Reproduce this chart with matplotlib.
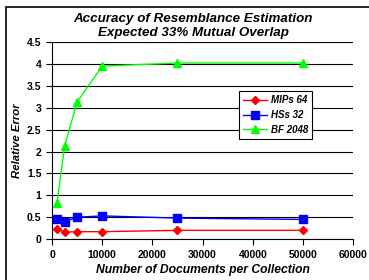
import matplotlib
matplotlib.use("Agg")
import matplotlib.pyplot as plt
from matplotlib.patches import Rectangle

plt.rcParams['font.family'] = ['Liberation Sans', 'DejaVu Sans']

# documents per collection
docs = [1000, 2500, 5000, 10000, 25000, 50000]
mips64 = [0.23, 0.16, 0.17, 0.17, 0.20, 0.20]
hss32 = [0.45, 0.40, 0.50, 0.53, 0.48, 0.45]
bf2048 = [0.82, 2.12, 3.13, 3.95, 4.02, 4.02]

fig = plt.figure(figsize=(3.69, 2.80), dpi=100)
ax = fig.add_axes([0.141, 0.146, 0.816, 0.704])

# outer chart frame (runs off right/bottom edge)
fig.patches.append(Rectangle((6/369, -0.05), 1.0, (280-7)/280 + 0.05,
                             transform=fig.transFigure, fill=False,
                             edgecolor='black', lw=1.2))

ax.plot(docs, mips64, color='#ff0000', marker='D', ms=4.5, lw=1, label='MIPs 64')
ax.plot(docs, hss32, color='#0000ff', marker='s', ms=5.5, lw=1, label='HSs 32')
ax.plot(docs, bf2048, color='#00ff00', marker='^', ms=5.5, lw=1, label='BF 2048')

ax.set_xlim(0, 60000)
ax.set_ylim(0, 4.5)
ax.set_xticks(range(0, 60001, 10000))
ax.set_yticks([0, 0.5, 1, 1.5, 2, 2.5, 3, 3.5, 4, 4.5])
ax.set_yticklabels(['0', '0.5', '1', '1.5', '2', '2.5', '3', '3.5', '4', '4.5'])
ax.yaxis.grid(True, color='black', lw=0.8)
ax.set_axisbelow(True)
for s in ['top', 'right']:
    ax.spines[s].set_visible(False)
ax.tick_params(direction='out', length=4, labelsize=7.5)
for lab in ax.get_xticklabels() + ax.get_yticklabels():
    lab.set_fontweight('bold')

ax.set_xlabel('Number of Documents per Collection', fontsize=8.7,
              fontweight='bold', style='italic', labelpad=3)
ax.set_ylabel('Relative Error', fontsize=8.2, fontweight='bold',
              style='italic', labelpad=4)
fig.text(0.523, 0.907, 'Accuracy of Resemblance Estimation\nExpected 33% Mutual Overlap',
         ha='center', va='center', fontsize=9.6, fontweight='bold',
         style='italic', linespacing=1.3)

leg = ax.legend(loc='upper left', bbox_to_anchor=(0.62, 0.75),
                prop={'weight': 'bold', 'style': 'italic', 'size': 7},
                fancybox=False, framealpha=1, edgecolor='black',
                handlelength=2.5, borderpad=0.4, labelspacing=0.5,
                handletextpad=0.4, borderaxespad=0)
leg.get_frame().set_linewidth(0.8)

fig.savefig('out.png', dpi=100)
